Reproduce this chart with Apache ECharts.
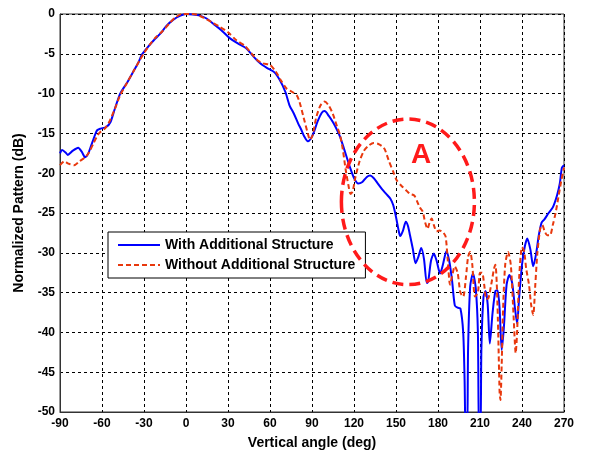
<!DOCTYPE html>
<html>
<head>
<meta charset="utf-8">
<script src="https://cdn.jsdelivr.net/npm/echarts@6/dist/echarts.min.js"></script>
<style>
  html, body { margin: 0; padding: 0; background: #fff; }
  #chart { width: 591px; height: 452px; }
</style>
</head>
<body>
<div id="chart"></div>
<script>
// Elevation pattern, normalized (dB) vs vertical angle (deg)
const withAngles = [-90,-88.5,-86,-84.5,-81,-77,-74.5,-72,-70,-67.5,-65,-63.5,-61,-57,-54,-51,-47,-42,-37.5,-34,-31.5,-27,-23,-18,-14,-9,-4,0,5,10,15,20,25,31,37,43,48,53,58,63,67,71,74,77,80,82.5,84.5,87,89,91,94,97,99,102,105,108,110,113,117,120,123,126,129,131.5,134,137,140,143,146,148,150,152,153,155,157,158.5,160,162,164,166,168,170,172,173,175,177,179,181.5,183.5,186,188,190,192,194,196,198,199,199.8,200.8,201.5,203,205,207,208.5,209.3,210.3,211,212.5,214,215.5,217,219,221,222.5,224,225.5,227,229,231,233,235,236.5,238,240,242,243.8,246,248,250,252,254,256,259,262,265,267,268.5,270];
const withValues = [-17.5,-17.1,-17.4,-17.7,-17.2,-16.8,-17.3,-18.0,-17.6,-16.4,-15.2,-14.6,-14.4,-14.2,-13.6,-12.0,-10.0,-8.6,-7.2,-6.1,-5.1,-4.1,-3.3,-2.4,-1.5,-0.7,-0.2,0,-0.05,-0.2,-0.6,-1.3,-2.0,-3.0,-3.7,-4.3,-5.3,-6.2,-6.8,-7.3,-8.3,-9.8,-11.5,-12.5,-13.7,-14.6,-15.4,-16.0,-15.7,-15.0,-13.5,-12.4,-12.2,-12.8,-13.6,-14.6,-15.4,-17.0,-19.2,-20.6,-21.3,-21.1,-20.5,-20.3,-20.6,-21.3,-22.0,-22.6,-23.2,-24.0,-25.5,-27.3,-27.9,-27.2,-26.1,-26.6,-27.8,-29.5,-31.3,-30.5,-29.4,-30.8,-33.8,-33.6,-31.0,-30.1,-31.0,-32.6,-31.5,-29.8,-31.0,-33.4,-36.6,-36.9,-37.0,-40.0,-46,-53,-53,-42,-34.2,-32.6,-34.5,-40,-53,-53,-42,-35.5,-34.8,-36.5,-41.4,-37.5,-34.8,-34.7,-37,-42.2,-39.5,-34,-32.8,-33.8,-37,-38.9,-35.5,-31.5,-29.2,-28.2,-29.6,-31.7,-30.2,-27.8,-26.2,-25.8,-25.0,-24.3,-22.8,-21.3,-19.3,-19.0];

const withoutAngles = [-90,-87,-84,-80,-76,-72,-69,-66,-63,-61,-58,-55,-51,-47,-42,-37.5,-33,-30,-26,-22,-17,-12,-8,-3,3,8,13,18,24,30,36,42,47,51,55,60,64,68,72,76,79,81,84,87,88.6,90.5,93,96,99,102,105,108,110,112,114,116,117.5,119,121,124,127,130,134,137,140,142,145,148,150.5,154,157,160,163,165,167,169,171,172.5,174,175.5,177,179,181,182.6,184,185.5,187,188.6,190,192,194,196,198,200,201.5,203,204.5,206.4,208.5,210,211.5,213,214.5,216,218,220,221,222,223,224,224.6,225.5,226.5,228,230,232,234,235.5,236.5,238,240,241.5,243,245,246.5,248,249.5,251,253,254.5,256,258,260,262,264,266,268,270];
const withoutValues = [-19.0,-18.5,-18.8,-19.0,-18.5,-18.0,-17.3,-16.2,-15.2,-14.8,-14.4,-13.6,-12.0,-10.2,-8.6,-7.2,-5.8,-4.9,-3.9,-3.0,-2.2,-1.2,-0.5,0,0,-0.1,-0.5,-1.0,-1.6,-2.3,-3.3,-4.0,-5.0,-5.8,-6.2,-6.4,-7.2,-8.4,-9.4,-9.8,-10.2,-11.0,-13.0,-15.0,-15.8,-15.2,-13.0,-11.5,-11.0,-11.5,-12.6,-14.2,-15.2,-17.0,-19.5,-21.5,-22.6,-22.3,-20.5,-18.5,-17.2,-16.6,-16.2,-16.3,-16.6,-17.0,-18.5,-19.8,-20.9,-21.6,-22.1,-22.6,-22.8,-23.5,-24.3,-24.8,-26.3,-27.0,-26.2,-25.7,-26.5,-27.3,-27.2,-27.3,-27.5,-28.0,-31.0,-34.0,-33.0,-31.7,-32.5,-35,-35.5,-33,-30.5,-29.9,-31.5,-35.5,-35.0,-32.5,-32.5,-34,-35.8,-35.7,-34,-32,-31.5,-34,-40,-47.5,-48.5,-44,-37,-31.5,-29.9,-31.5,-38,-42.6,-40,-33,-29.3,-29.8,-32,-34,-36.5,-37.8,-34,-30,-27,-26.5,-27.2,-27.8,-27.8,-26.5,-25,-23,-21,-19.3];

const xTicks = { min: -90, max: 270, step: 30 };
const yTicks = { min: -50, max: 0, step: 5 };
const seriesNames = ['With Additional Structure', 'Without Additional Structure'];

// region "A" marked on the plot, in axis units
const regionCenter = [158.5, -23.6];
const regionHalfSize = [47.5, 10.4];
const regionLabel = 'A';
const regionLabelAt = [168, -17.8];

function pairs(xs, ys) { return xs.map((x, i) => [x, ys[i]]); }

const chart = echarts.init(document.getElementById('chart'), null, { renderer: 'canvas' });

const fontFamily = 'Arial, "Liberation Sans", sans-serif';
const tickFont = { fontFamily, fontWeight: 'bold', fontSize: 12, color: '#000' };
const titleFont = { fontFamily, fontWeight: 'bold', fontSize: 14, color: '#000' };
const gridDash = { color: '#000', width: 1, type: [3, 3] };

chart.setOption({
  animation: false,
  backgroundColor: '#fff',
  grid: {
    left: 60, right: 27, top: 14, bottom: 40, containLabel: false, outerBoundsMode: 'none',
    show: true, borderColor: '#333', borderWidth: 1, backgroundColor: 'transparent'
  },
  xAxis: {
    type: 'value', min: xTicks.min, max: xTicks.max, interval: xTicks.step,
    name: 'Vertical angle (deg)', nameLocation: 'middle', nameGap: 24,
    nameTextStyle: titleFont,
    axisLine: { show: true, onZero: false, lineStyle: { color: '#333' } },
    axisTick: { show: false },
    axisLabel: Object.assign({ margin: 6 }, tickFont),
    splitLine: { show: true, lineStyle: gridDash }
  },
  yAxis: {
    type: 'value', min: yTicks.min, max: yTicks.max, interval: yTicks.step,
    name: 'Normalized Pattern (dB)', nameLocation: 'middle', nameGap: 34, nameRotate: 90,
    nameTextStyle: titleFont,
    axisLine: { show: true, onZero: false, lineStyle: { color: '#333' } },
    axisTick: { show: false },
    axisLabel: Object.assign({ margin: 5 }, tickFont),
    splitLine: { show: true, lineStyle: gridDash }
  },
  legend: {
    show: true,
    orient: 'vertical', left: 108, top: 232,
    backgroundColor: '#fff', borderColor: '#000', borderWidth: 1,
    padding: [6, 10, 6, 9], itemGap: 6, itemWidth: 42, itemHeight: 14,
    itemStyle: { opacity: 0 },
    textStyle: titleFont,
    data: seriesNames
  },
  series: [
    {
      name: seriesNames[0], type: 'line', data: pairs(withAngles, withValues),
      symbol: 'none', smooth: 0.25, clip: true,
      lineStyle: { color: '#0000ff', width: 2 }, itemStyle: { color: '#0000ff' }, z: 3
    },
    {
      name: seriesNames[1], type: 'line', data: pairs(withoutAngles, withoutValues),
      symbol: 'none', smooth: 0.25, clip: true,
      lineStyle: { color: '#e8380d', width: 2, type: [5, 3] }, itemStyle: { color: '#e8380d' }, z: 4
    }
  ]
});

function drawRegion() {
  const c = chart.convertToPixel({ gridIndex: 0 }, regionCenter);
  const e = chart.convertToPixel({ gridIndex: 0 }, [regionCenter[0] + regionHalfSize[0], regionCenter[1] - regionHalfSize[1]]);
  const t = chart.convertToPixel({ gridIndex: 0 }, regionLabelAt);
  chart.setOption({
    graphic: [
      {
        type: 'ellipse', z: 10,
        shape: { cx: c[0], cy: c[1], rx: Math.abs(e[0] - c[0]), ry: Math.abs(e[1] - c[1]) },
        style: { fill: 'none', stroke: '#ff1a1a', lineWidth: 3.5, lineDash: [11, 6] }
      },
      {
        type: 'text', z: 10, x: t[0], y: t[1],
        style: { text: regionLabel, fill: '#ff1a1a', font: 'bold 28px ' + fontFamily, align: 'center', verticalAlign: 'middle' }
      }
    ]
  });
}
drawRegion();
</script>
</body>
</html>
